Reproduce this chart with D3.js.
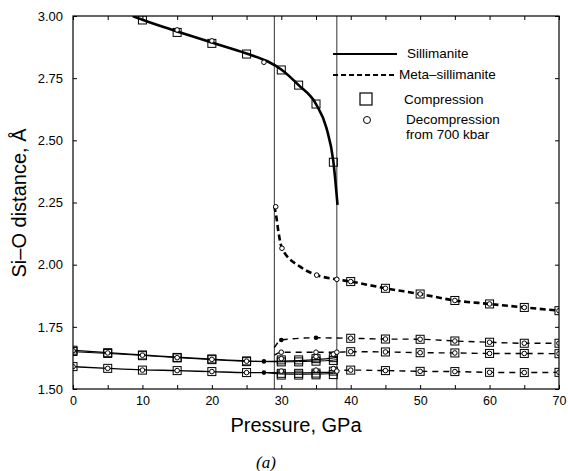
<!DOCTYPE html>
<html>
<head>
<meta charset="utf-8">
<script src="https://cdn.jsdelivr.net/npm/d3@7"></script>
<style>
  body { margin: 0; background: #fff; }
  svg { display: block; font-family: "Liberation Sans", Arial, sans-serif; }
</style>
</head>
<body>
<svg id="chart" width="568" height="471"></svg>
<script>
// ---------------- data ----------------
const xTicks = [0, 5, 10, 15, 20, 25, 30, 35, 40, 45, 50, 55, 60, 65, 70];
const xTickLabels = [0, 10, 20, 30, 40, 50, 60, 70];
const yTicks = [1.50, 1.75, 2.00, 2.25, 2.50, 2.75, 3.00];
const transitions = [29, 38];

// Sillimanite (solid) fitted curves
const silLongP = [8.6, 10, 15, 20, 25, 28, 30, 32.5, 35, 36.5, 37.5, 38.1];
const silLongD = [3.000, 2.985, 2.938, 2.893, 2.849, 2.818, 2.785, 2.722, 2.646, 2.550, 2.415, 2.240];
const silS1P = [0, 5, 10, 15, 20, 25, 27.5, 30, 32.5, 35, 37.5, 38];
const silS1D = [1.656, 1.646, 1.637, 1.628, 1.620, 1.613, 1.611, 1.612, 1.614, 1.618, 1.625, 1.627];
const silS2P = [0, 5, 10, 15, 20, 25, 27.5, 30, 32.5, 35, 37.5, 38];
const silS2D = [1.650, 1.643, 1.635, 1.626, 1.618, 1.611, 1.610, 1.609, 1.610, 1.612, 1.616, 1.618];
const silS3P = [0, 5, 10, 15, 20, 25, 27.5, 30, 32.5, 35, 37.5, 38];
const silS3D = [1.590, 1.583, 1.577, 1.574, 1.570, 1.566, 1.566, 1.565, 1.565, 1.566, 1.568, 1.570];
const silS4P = [28, 30, 32.5, 35, 37.5, 38];
const silS4D = [1.566, 1.560, 1.559, 1.560, 1.562, 1.566];

// Meta-sillimanite (dashed) fitted curves
const metaLongP = [29, 29.3, 29.6, 30.1, 32.7, 35.1, 38, 40, 45, 50, 55, 60, 65, 70];
const metaLongD = [2.235, 2.190, 2.130, 2.066, 1.992, 1.958, 1.941, 1.932, 1.905, 1.882, 1.856, 1.842, 1.828, 1.815];
const metaS1P = [29, 30, 35, 38, 40, 45, 50, 55, 60, 65, 70];
const metaS1D = [1.666, 1.697, 1.706, 1.705, 1.704, 1.701, 1.700, 1.693, 1.688, 1.684, 1.684];
const metaS2P = [29, 30, 35, 38, 40, 45, 50, 55, 60, 65, 70];
const metaS2D = [1.636, 1.648, 1.648, 1.648, 1.650, 1.649, 1.646, 1.645, 1.643, 1.643, 1.642];
const metaS3P = [37.5, 40, 45, 50, 55, 60, 65, 70];
const metaS3D = [1.572, 1.576, 1.574, 1.571, 1.570, 1.567, 1.566, 1.567];

// Compression data (squares)
const compP = [10, 15, 20, 25, 30, 32.5, 35, 37.5,
               0, 5, 10, 15, 20, 25, 30, 32.5, 35, 37.5,
               0, 5, 10, 15, 20, 25, 30, 32.5, 35, 37.5,
               0, 5, 10, 15, 20, 25, 30, 32.5, 35, 37.5,
               30, 32.5, 35, 37.5,
               40, 45, 50, 55, 60, 65, 70,
               40, 45, 50, 55, 60, 65, 70,
               40, 45, 50, 55, 60, 65, 70,
               40, 45, 50, 55, 60, 65, 70];
const compD = [2.984, 2.934, 2.890, 2.847, 2.783, 2.722, 2.646, 2.412,
               1.656, 1.646, 1.637, 1.627, 1.621, 1.613, 1.617, 1.617, 1.622, 1.626,
               1.651, 1.643, 1.634, 1.625, 1.618, 1.610, 1.609, 1.609, 1.612, 1.615,
               1.590, 1.583, 1.576, 1.574, 1.570, 1.566, 1.563, 1.563, 1.564, 1.572,
               1.556, 1.556, 1.557, 1.558,
               1.932, 1.905, 1.882, 1.856, 1.842, 1.828, 1.815,
               1.704, 1.701, 1.700, 1.693, 1.688, 1.684, 1.684,
               1.650, 1.649, 1.646, 1.645, 1.643, 1.643, 1.642,
               1.576, 1.574, 1.571, 1.570, 1.567, 1.566, 1.567];

// Decompression from 700 kbar (circles)
const decP = [15, 20, 27.5,
              0, 5, 10, 15, 20, 25, 0, 5, 10, 15, 20, 25,
              30, 35, 37.5, 30, 35, 37.5,
              29.2, 30.1, 35.1, 38,
              40, 45, 50, 55, 60, 65, 70,
              40, 45, 50, 55, 60, 65, 70,
              30, 35, 38, 40, 45, 50, 55, 60, 65, 70,
              38, 40, 45, 50, 55, 60, 65, 70];
const decD = [2.944, 2.900, 2.814,
              1.654, 1.645, 1.636, 1.626, 1.619, 1.612, 1.590, 1.583, 1.576, 1.574, 1.570, 1.566,
              1.622, 1.630, 1.640, 1.572, 1.576, 1.582,
              2.233, 2.066, 1.958, 1.941,
              1.932, 1.905, 1.882, 1.856, 1.842, 1.828, 1.815,
              1.704, 1.701, 1.700, 1.693, 1.688, 1.684, 1.684,
              1.648, 1.648, 1.648, 1.650, 1.649, 1.646, 1.645, 1.643, 1.643, 1.642,
              1.572, 1.576, 1.574, 1.571, 1.570, 1.567, 1.566, 1.567];

// small filled decompression dots
const dotP = [27.5, 27.5, 30, 35];
const dotD = [1.611, 1.566, 1.697, 1.706];

const legendLabels = ["Sillimanite", "Meta\u2013sillimanite", "Compression", "Decompression", "from 700 kbar"];

// ---------------- drawing ----------------
const svg = d3.select("#chart");
const x = d3.scaleLinear().domain([0, 70]).range([73, 559]);
const y = d3.scaleLinear().domain([1.5, 3.0]).range([389, 16]);

svg.append("defs").append("clipPath").attr("id", "plotClip")
  .append("rect").attr("x", 73).attr("y", 16).attr("width", 486).attr("height", 373);

const plot = svg.append("g").attr("clip-path", "url(#plotClip)");

// transition lines
plot.selectAll("line.tr").data(transitions).join("line")
  .attr("x1", d => x(d)).attr("x2", d => x(d))
  .attr("y1", y(3.0)).attr("y2", y(1.5))
  .attr("stroke", "#333").attr("stroke-width", 1);

const zip = (P, D) => P.map((p, i) => [p, D[i]]);
const line = d3.line().x(d => x(d[0])).y(d => y(d[1])).curve(d3.curveMonotoneX);

function drawLine(P, D, width, dash) {
  plot.append("path").datum(zip(P, D))
    .attr("d", line).attr("fill", "none")
    .attr("stroke", "#000").attr("stroke-width", width)
    .attr("stroke-dasharray", dash || null);
}

drawLine(silS1P, silS1D, 1.2);
drawLine(silS2P, silS2D, 1.0);
drawLine(silS3P, silS3D, 1.4);
drawLine(silS4P, silS4D, 1.0);
drawLine(metaS1P, metaS1D, 1.4, "6,5");
drawLine(metaS2P, metaS2D, 1.4, "6,5");
drawLine(metaS3P, metaS3D, 1.4, "6,5");
drawLine(silLongP, silLongD, 2.6);
drawLine(metaLongP, metaLongD, 2.6, "6,3.5");

// squares
const sq = 8;
plot.selectAll("rect.comp").data(zip(compP, compD)).join("rect")
  .attr("x", d => x(d[0]) - sq / 2).attr("y", d => y(d[1]) - sq / 2)
  .attr("width", sq).attr("height", sq)
  .attr("fill", "none").attr("stroke", "#000").attr("stroke-width", 1);

// circles
plot.selectAll("circle.dec").data(zip(decP, decD)).join("circle")
  .attr("cx", d => x(d[0])).attr("cy", d => y(d[1])).attr("r", 2.3)
  .attr("fill", "#fff").attr("stroke", "#000").attr("stroke-width", 1);

plot.selectAll("circle.dot").data(zip(dotP, dotD)).join("circle")
  .attr("cx", d => x(d[0])).attr("cy", d => y(d[1])).attr("r", 2.3)
  .attr("fill", "#000");

// frame
svg.append("rect").attr("x", 73).attr("y", 16).attr("width", 486).attr("height", 373)
  .attr("fill", "none").attr("stroke", "#000").attr("stroke-width", 1.2);

// axes
const fmtX = d => (d % 10 === 0 ? d : "");
const axB = svg.append("g").attr("transform", "translate(0,389)")
  .call(d3.axisBottom(x).tickValues(xTicks).tickSize(-4).tickSizeOuter(0).tickPadding(7).tickFormat(fmtX));
const axT = svg.append("g").attr("transform", "translate(0,16)")
  .call(d3.axisTop(x).tickValues(xTicks).tickSize(-4).tickSizeOuter(0).tickFormat(""));
const axL = svg.append("g").attr("transform", "translate(73,0)")
  .call(d3.axisLeft(y).tickValues(yTicks).tickSize(-4).tickSizeOuter(0).tickPadding(10).tickFormat(d3.format(".2f")));
const axR = svg.append("g").attr("transform", "translate(559,0)")
  .call(d3.axisRight(y).tickValues(yTicks).tickSize(-4).tickSizeOuter(0).tickFormat(""));

[axB, axT, axL, axR].forEach(g => {
  g.select(".domain").remove();
  g.selectAll(".tick line").attr("stroke", "#000").attr("stroke-width", 1);
});
axB.selectAll("text").attr("font-size", 12.5).attr("font-family", "Liberation Sans, Arial").attr("fill", "#000");
axL.selectAll("text").attr("font-size", 13).attr("font-family", "Liberation Sans, Arial").attr("fill", "#000");

// axis titles
svg.append("text").attr("x", 296).attr("y", 432).attr("text-anchor", "middle")
  .attr("font-size", 20).text("Pressure, GPa");
svg.append("text").attr("transform", "translate(26,203) rotate(-90)").attr("text-anchor", "middle")
  .attr("font-size", 20).text("Si\u2013O distance, \u00C5");
svg.append("text").attr("x", 266).attr("y", 468).attr("text-anchor", "middle")
  .attr("font-family", "Liberation Serif, Times New Roman, serif").attr("font-style", "italic")
  .attr("font-size", 17).text("(a)");

// legend
const lg = svg.append("g").attr("font-size", 13.5);
lg.append("line").attr("x1", 333).attr("x2", 397).attr("y1", 54).attr("y2", 54)
  .attr("stroke", "#000").attr("stroke-width", 1.8);
lg.append("line").attr("x1", 333).attr("x2", 397).attr("y1", 75).attr("y2", 75)
  .attr("stroke", "#000").attr("stroke-width", 1.8).attr("stroke-dasharray", "5,3");
lg.append("rect").attr("x", 360).attr("y", 93).attr("width", 12).attr("height", 12)
  .attr("fill", "none").attr("stroke", "#000").attr("stroke-width", 1.2);
lg.append("circle").attr("cx", 367).attr("cy", 120).attr("r", 3.5)
  .attr("fill", "none").attr("stroke", "#000").attr("stroke-width", 1);
const legPos = [[407, 58], [399, 79], [404, 104], [406, 124], [406, 139]];
lg.selectAll("text").data(legendLabels).join("text")
  .attr("x", (d, i) => legPos[i][0]).attr("y", (d, i) => legPos[i][1]).text(d => d);
</script>
</body>
</html>
